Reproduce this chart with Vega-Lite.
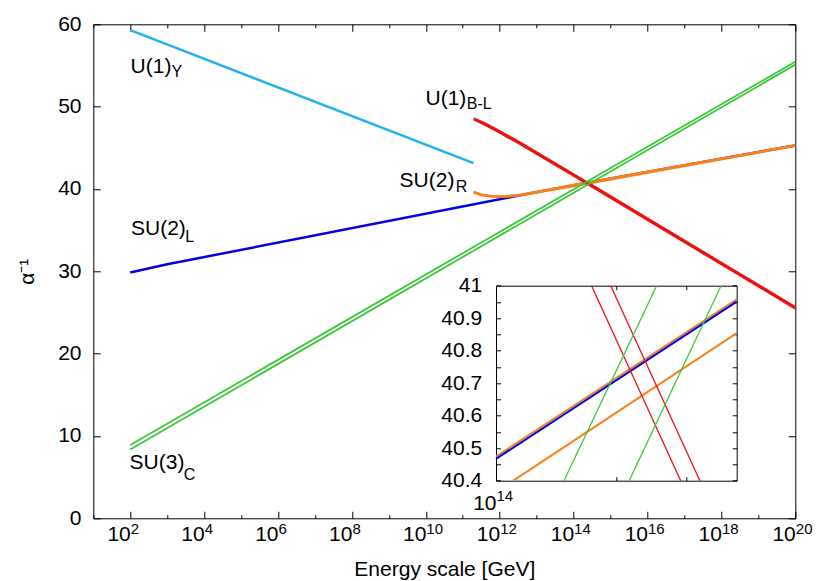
{
  "$schema": "https://vega.github.io/schema/vega-lite/v6.json",
  "width": 702,
  "height": 494,
  "autosize": {"type": "none"},
  "padding": {"left": 93.3, "top": 24.3, "right": 34.7, "bottom": 62.7},
  "background": "white",
  "config": {
    "view": {"stroke": null},
    "axis": {"labelFont": "Liberation Sans", "titleFont": "Liberation Sans", "labelColor": "black", "titleColor": "black", "domainColor": "black", "tickColor": "black", "grid": false, "labelFontSize": 21, "titleFontSize": 21, "titleFontWeight": "normal", "domainWidth": 1, "tickWidth": 1, "labelOverlap": false, "labelFlush": false},
    "text": {"font": "Liberation Sans", "color": "black"}
  },
  "datasets": {
    "lines": [
      {"s": "U1Y", "g": "U1Y", "E": 100, "v": 59.3},
      {"s": "U1Y", "g": "U1Y", "E": 1.95e11, "v": 43.13},
      {"s": "SU2L", "g": "SU2L", "E": 100, "v": 29.85},
      {"s": "SU2L", "g": "SU2L", "E": 1000, "v": 30.85},
      {"s": "SU2L", "g": "SU2L", "E": 1.905e12, "v": 39.0},
      {"s": "SU2L", "g": "SU2L", "E": 1e14, "v": 40.467},
      {"s": "SU2L", "g": "SU2L", "E": 4e14, "v": 40.951},
      {"s": "SU2L", "g": "SU2L", "E": 1e20, "v": 45.29},
      {"s": "SU2Ra", "g": "SU2R", "E": 1.95e11, "v": 39.65},
      {"s": "SU2Ra", "g": "SU2R", "E": 3.2e11, "v": 39.3},
      {"s": "SU2Ra", "g": "SU2R", "E": 6.3e11, "v": 39.12},
      {"s": "SU2Ra", "g": "SU2R", "E": 1.26e12, "v": 39.1},
      {"s": "SU2Ra", "g": "SU2R", "E": 3.2e12, "v": 39.25},
      {"s": "SU2Ra", "g": "SU2R", "E": 1e14, "v": 40.474},
      {"s": "SU2Ra", "g": "SU2R", "E": 4e14, "v": 40.958},
      {"s": "SU2Ra", "g": "SU2R", "E": 1e20, "v": 45.3},
      {"s": "SU2Rb", "g": "SU2R", "E": 1.95e11, "v": 39.6},
      {"s": "SU2Rb", "g": "SU2R", "E": 3.2e11, "v": 39.25},
      {"s": "SU2Rb", "g": "SU2R", "E": 6.3e11, "v": 39.07},
      {"s": "SU2Rb", "g": "SU2R", "E": 1.26e12, "v": 39.05},
      {"s": "SU2Rb", "g": "SU2R", "E": 3.2e12, "v": 39.2},
      {"s": "SU2Rb", "g": "SU2R", "E": 1.105e14, "v": 40.4},
      {"s": "SU2Rb", "g": "SU2R", "E": 4e14, "v": 40.854},
      {"s": "SU2Rb", "g": "SU2R", "E": 1e20, "v": 45.24},
      {"s": "U1BLa", "g": "U1BL", "E": 2e11, "v": 48.48},
      {"s": "U1BLa", "g": "U1BL", "E": 4e11, "v": 47.82},
      {"s": "U1BLa", "g": "U1BL", "E": 1e12, "v": 46.86},
      {"s": "U1BLa", "g": "U1BL", "E": 3.16e12, "v": 45.61},
      {"s": "U1BLa", "g": "U1BL", "E": 1e13, "v": 44.3},
      {"s": "U1BLa", "g": "U1BL", "E": 1.734e14, "v": 41.0},
      {"s": "U1BLa", "g": "U1BL", "E": 2.897e14, "v": 40.4},
      {"s": "U1BLa", "g": "U1BL", "E": 1e20, "v": 25.5},
      {"s": "U1BLb", "g": "U1BL", "E": 2e11, "v": 48.55},
      {"s": "U1BLb", "g": "U1BL", "E": 4e11, "v": 47.93},
      {"s": "U1BLb", "g": "U1BL", "E": 1e12, "v": 46.99},
      {"s": "U1BLb", "g": "U1BL", "E": 3.16e12, "v": 45.74},
      {"s": "U1BLb", "g": "U1BL", "E": 1e13, "v": 44.43},
      {"s": "U1BLb", "g": "U1BL", "E": 1.936e14, "v": 41.0},
      {"s": "U1BLb", "g": "U1BL", "E": 3.236e14, "v": 40.4},
      {"s": "U1BLb", "g": "U1BL", "E": 1e20, "v": 25.63},
      {"s": "SU3Ca", "g": "SU3C", "E": 100, "v": 8.9},
      {"s": "SU3Ca", "g": "SU3C", "E": 1.479e14, "v": 40.4},
      {"s": "SU3Ca", "g": "SU3C", "E": 2.523e14, "v": 41.0},
      {"s": "SU3Ca", "g": "SU3C", "E": 1e20, "v": 55.45},
      {"s": "SU3Cb", "g": "SU3C", "E": 100, "v": 8.35},
      {"s": "SU3Cb", "g": "SU3C", "E": 2.153e14, "v": 40.4},
      {"s": "SU3Cb", "g": "SU3C", "E": 3.656e14, "v": 41.0},
      {"s": "SU3Cb", "g": "SU3C", "E": 1e20, "v": 55.1}
    ],
    "names": [
      {"t": "U(1)", "E": 102, "v": 54.05},
      {"t": "U(1)", "E": 0.98e10, "v": 50.2},
      {"t": "SU(2)", "E": 1.95e9, "v": 40.22},
      {"t": "SU(2)", "E": 105, "v": 34.35},
      {"t": "SU(3)", "E": 96, "v": 5.97}
    ],
    "subs": [
      {"t": "Y", "E": 1300, "v": 53.6},
      {"t": "B-L", "E": 1.28e11, "v": 49.68},
      {"t": "R", "E": 6.5e10, "v": 39.68},
      {"t": "L", "E": 3100, "v": 33.6},
      {"t": "C", "E": 2800, "v": 4.61}
    ]
  },
  "layer": [
    {
      "layer": [
        {
          "data": {"name": "lines"},
          "transform": [{"filter": "datum.g == 'U1Y'"}],
          "mark": {"type": "line", "color": "#22B2EE", "strokeWidth": 2.5},
          "encoding": {
            "x": {"field": "E", "type": "quantitative", "scale": {"type": "log", "domain": [10, 1e20], "nice": false},
              "axis": {"orient": "bottom", "values": [1e2, 1e4, 1e6, 1e8, 1e10, 1e12, 1e14, 1e16, 1e18, 1e20], "labelExpr": "'10'", "ticks": false, "domain": false, "labelAlign": "right", "labelDx": 6.5, "labelBaseline": "alphabetic", "labelPadding": 22.5, "title": "Energy scale [GeV]", "titleX": 351, "titleY": 57, "titleAlign": "center", "titleBaseline": "alphabetic", "titleAnchor": null}},
            "y": {"field": "v", "type": "quantitative", "scale": {"domain": [0, 60], "nice": false, "zero": false},
              "axis": {"orient": "left", "values": [0, 10, 20, 30, 40, 50, 60], "ticks": false, "domain": false, "labelPadding": 12.3, "title": "α⁻¹", "titleAngle": -90, "titleX": -60, "titleY": 247, "titleAlign": "center", "titleBaseline": "alphabetic", "titleAnchor": null}},
            "detail": {"field": "s"}
          }
        },
        {
          "data": {"name": "lines"},
          "transform": [{"filter": "datum.g == 'SU2L'"}],
          "mark": {"type": "line", "color": "#0000E8", "strokeWidth": 2.5},
          "encoding": {
            "x": {"field": "E", "type": "quantitative", "scale": {"type": "log", "domain": [10, 1e20], "nice": false},
              "axis": {"orient": "bottom", "values": [1e2, 1e4, 1e6, 1e8, 1e10, 1e12, 1e14, 1e16, 1e18, 1e20], "labelExpr": "round(log(datum.value)/LN10) + ''", "labelFontSize": 15, "ticks": false, "domain": false, "labelAlign": "left", "labelDx": 6.5, "labelBaseline": "alphabetic", "labelPadding": 15.5, "title": null}},
            "y": {"field": "v", "type": "quantitative", "scale": {"domain": [0, 60], "nice": false, "zero": false},
              "axis": {"orient": "left", "values": [0, 10, 20, 30, 40, 50, 60], "labels": false, "tickSize": -7, "domain": true, "title": null}},
            "detail": {"field": "s"}
          }
        },
        {
          "data": {"name": "lines"},
          "transform": [{"filter": "datum.g == 'SU2R'"}],
          "mark": {"type": "line", "color": "#F5821F", "strokeWidth": 2.5},
          "encoding": {
            "x": {"field": "E", "type": "quantitative", "scale": {"type": "log", "domain": [10, 1e20], "nice": false},
              "axis": {"orient": "bottom", "values": [1e2, 1e4, 1e6, 1e8, 1e10, 1e12, 1e14, 1e16, 1e18, 1e20], "labels": false, "tickSize": -7, "domain": true, "title": null}},
            "y": {"field": "v", "type": "quantitative", "scale": {"domain": [0, 60], "nice": false, "zero": false},
              "axis": {"orient": "right", "values": [0, 10, 20, 30, 40, 50, 60], "labels": false, "tickSize": -7, "domain": true, "title": null}},
            "detail": {"field": "s"}
          }
        },
        {
          "data": {"name": "lines"},
          "transform": [{"filter": "datum.g == 'U1BL'"}],
          "mark": {"type": "line", "color": "#EE1111", "strokeWidth": 2.5},
          "encoding": {
            "x": {"field": "E", "type": "quantitative", "scale": {"type": "log", "domain": [10, 1e20], "nice": false},
              "axis": {"orient": "bottom", "values": [1e1, 1e3, 1e5, 1e7, 1e9, 1e11, 1e13, 1e15, 1e17, 1e19], "labels": false, "tickSize": -3.5, "domain": false, "title": null}},
            "y": {"field": "v", "type": "quantitative", "scale": {"domain": [0, 60], "nice": false, "zero": false}, "axis": null},
            "detail": {"field": "s"}
          }
        },
        {
          "data": {"name": "lines"},
          "transform": [{"filter": "datum.g == 'SU3C'"}],
          "mark": {"type": "line", "color": "#3CC83C", "strokeWidth": 1.8},
          "encoding": {
            "x": {"field": "E", "type": "quantitative", "scale": {"type": "log", "domain": [10, 1e20], "nice": false},
              "axis": {"orient": "top", "values": [1e2, 1e4, 1e6, 1e8, 1e10, 1e12, 1e14, 1e16, 1e18, 1e20], "labels": false, "tickSize": -7, "domain": true, "title": null}},
            "y": {"field": "v", "type": "quantitative", "scale": {"domain": [0, 60], "nice": false, "zero": false}, "axis": null},
            "detail": {"field": "s"}
          }
        },
        {
          "data": {"name": "names"},
          "mark": {"type": "text", "fontSize": 21, "align": "left", "baseline": "alphabetic"},
          "encoding": {
            "x": {"field": "E", "type": "quantitative", "scale": {"type": "log", "domain": [10, 1e20], "nice": false},
              "axis": {"orient": "top", "values": [1e1, 1e3, 1e5, 1e7, 1e9, 1e11, 1e13, 1e15, 1e17, 1e19], "labels": false, "tickSize": -3.5, "domain": false, "title": null}},
            "y": {"field": "v", "type": "quantitative", "scale": {"domain": [0, 60], "nice": false, "zero": false}, "axis": null},
            "text": {"field": "t"}
          }
        },
        {
          "data": {"name": "subs"},
          "mark": {"type": "text", "fontSize": 16, "align": "left", "baseline": "alphabetic"},
          "encoding": {
            "x": {"field": "E", "type": "quantitative", "scale": {"type": "log", "domain": [10, 1e20], "nice": false}, "axis": null},
            "y": {"field": "v", "type": "quantitative", "scale": {"domain": [0, 60], "nice": false, "zero": false}, "axis": null},
            "text": {"field": "t"}
          }
        }
      ],
      "resolve": {"axis": {"x": "independent", "y": "independent"}}
    },
    {
      "layer": [
        {
          "data": {"name": "lines"},
          "transform": [{"filter": "datum.g == 'SU2R' && datum.E >= 0.999e14 && datum.E <= 4.001e14 && datum.v >= 40.39 && datum.v <= 41.01"}],
          "mark": {"type": "line", "color": "#F5821F", "strokeWidth": 2},
          "encoding": {
            "x": {"field": "E", "type": "quantitative", "scale": {"type": "log", "domain": [1e14, 4e14], "range": [402.7, 643.4], "nice": false},
              "axis": {"orient": "bottom", "offset": -37.6, "values": [2e14, 3e14], "labels": false, "tickSize": -4, "domain": true, "title": null}},
            "y": {"field": "v", "type": "quantitative", "scale": {"domain": [40.4, 41], "range": [456.4, 261.4], "nice": false, "zero": false},
              "axis": {"orient": "left", "offset": -402.7, "values": [40.4, 40.5, 40.6, 40.7, 40.8, 40.9, 41], "labelExpr": "datum.value >= 40.999 ? '41' : format(datum.value, '.1f')", "ticks": false, "domain": false, "labelPadding": 14.3, "title": null}},
            "detail": {"field": "s"}
          }
        },
        {
          "data": {"name": "lines"},
          "transform": [{"filter": "datum.g == 'SU2L' && datum.E >= 0.999e14 && datum.E <= 4.001e14 && datum.v >= 40.39 && datum.v <= 41.01"}],
          "mark": {"type": "line", "color": "#0000E8", "strokeWidth": 2},
          "encoding": {
            "x": {"field": "E", "type": "quantitative", "scale": {"type": "log", "domain": [1e14, 4e14], "range": [402.7, 643.4], "nice": false},
              "axis": {"orient": "bottom", "offset": -37.6, "values": [1e14], "labelExpr": "'10'", "ticks": false, "domain": false, "labelAlign": "right", "labelDx": 2.5, "labelBaseline": "alphabetic", "labelPadding": 29.3, "title": null}},
            "y": {"field": "v", "type": "quantitative", "scale": {"domain": [40.4, 41], "range": [456.4, 261.4], "nice": false, "zero": false},
              "axis": {"orient": "left", "offset": -402.7, "values": [40.4, 40.45, 40.5, 40.55, 40.6, 40.65, 40.7, 40.75, 40.8, 40.85, 40.9, 40.95, 41], "labels": false, "tickSize": -4.5, "domain": true, "title": null}},
            "detail": {"field": "s"}
          }
        },
        {
          "data": {"name": "lines"},
          "transform": [{"filter": "datum.g == 'U1BL' && datum.E >= 0.999e14 && datum.E <= 4.001e14 && datum.v >= 40.39 && datum.v <= 41.01"}],
          "mark": {"type": "line", "color": "#EE1111", "strokeWidth": 1.3},
          "encoding": {
            "x": {"field": "E", "type": "quantitative", "scale": {"type": "log", "domain": [1e14, 4e14], "range": [402.7, 643.4], "nice": false},
              "axis": {"orient": "bottom", "offset": -37.6, "values": [1e14], "labelExpr": "'14'", "labelFontSize": 15, "ticks": false, "domain": false, "labelAlign": "left", "labelDx": 3, "labelBaseline": "alphabetic", "labelPadding": 19.5, "title": null}},
            "y": {"field": "v", "type": "quantitative", "scale": {"domain": [40.4, 41], "range": [456.4, 261.4], "nice": false, "zero": false},
              "axis": {"orient": "right", "offset": -58.6, "values": [40.4, 40.45, 40.5, 40.55, 40.6, 40.65, 40.7, 40.75, 40.8, 40.85, 40.9, 40.95, 41], "labels": false, "tickSize": -4.5, "domain": true, "title": null}},
            "detail": {"field": "s"}
          }
        },
        {
          "data": {"name": "lines"},
          "transform": [{"filter": "datum.g == 'SU3C' && datum.E >= 0.999e14 && datum.E <= 4.001e14 && datum.v >= 40.39 && datum.v <= 41.01"}],
          "mark": {"type": "line", "color": "#3CC83C", "strokeWidth": 1.3},
          "encoding": {
            "x": {"field": "E", "type": "quantitative", "scale": {"type": "log", "domain": [1e14, 4e14], "range": [402.7, 643.4], "nice": false},
              "axis": {"orient": "top", "offset": -261.4, "values": [2e14, 3e14], "labels": false, "tickSize": -4, "domain": true, "title": null}},
            "y": {"field": "v", "type": "quantitative", "scale": {"domain": [40.4, 41], "range": [456.4, 261.4], "nice": false, "zero": false}, "axis": null},
            "detail": {"field": "s"}
          }
        }
      ],
      "resolve": {"axis": {"x": "independent", "y": "independent"}}
    }
  ],
  "resolve": {"scale": {"x": "independent", "y": "independent"}, "axis": {"x": "independent", "y": "independent"}}
}
